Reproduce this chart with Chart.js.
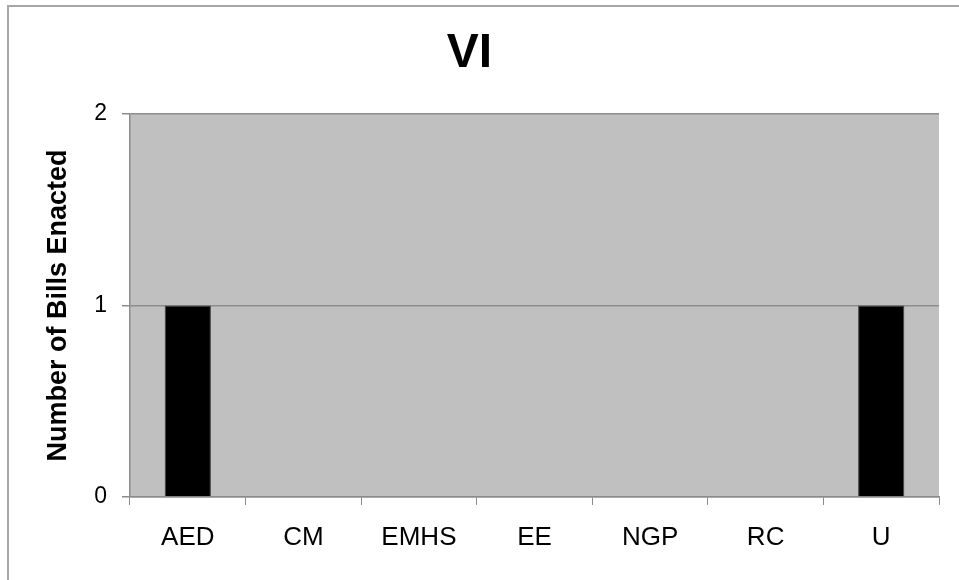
<!DOCTYPE html>
<html>
<head>
<meta charset="utf-8">
<script src="https://cdn.jsdelivr.net/npm/chart.js@4"></script>
<style>
    body { margin: 0; background: #ffffff; }
    #grafico { display: block; }
</style>
</head>
<body>
<canvas id="grafico" width="959" height="580"></canvas>
<script>
// Dados do gráfico
const categorias = ['AED', 'CM', 'EMHS', 'EE', 'NGP', 'RC', 'U'];
const totais = [1, 0, 0, 0, 0, 0, 1];
const titulo = 'VI';
const tituloEixoY = 'Number of Bills Enacted';

const fonte = '"Liberation Sans", Arial, sans-serif';

// Fundo cinza da área do gráfico e moldura externa
const fundoPlugin = {
    id: 'fundo',
    beforeDraw(chart) {
        const ctx = chart.ctx;
        const area = chart.chartArea;
        ctx.save();
        ctx.fillStyle = '#c0c0c0';
        ctx.fillRect(area.left, area.top, area.right - area.left, area.bottom - area.top);
        ctx.strokeStyle = '#a6a6a6';
        ctx.lineWidth = 2;
        ctx.beginPath();
        ctx.moveTo(8, 580);
        ctx.lineTo(8, 6);
        ctx.lineTo(959, 6);
        ctx.stroke();
        ctx.restore();
    }
};

const ctx = document.getElementById('grafico').getContext('2d');

const meuGrafico = new Chart(ctx, {
    type: 'bar',
    data: {
        labels: categorias,
        datasets: [{
            label: tituloEixoY,
            data: totais,
            backgroundColor: '#000000',
            borderColor: '#404040',
            borderWidth: 1,
            categoryPercentage: 1,
            barPercentage: 0.4
        }]
    },
    options: {
        responsive: false,
        animation: false,
        layout: {
            padding: { left: 0, right: 20, top: 0, bottom: 0 }
        },
        plugins: {
            legend: { display: false },
            tooltip: { enabled: false },
            title: {
                display: true,
                text: titulo,
                color: '#000000',
                font: { family: fonte, size: 48, weight: 'bold', lineHeight: 1.2 },
                padding: { top: 25, bottom: 31.4 }
            }
        },
        scales: {
            x: {
                offset: true,
                grid: {
                    offset: true,
                    drawOnChartArea: false,
                    color: '#8c8c8c',
                    tickLength: 8
                },
                border: { display: true, color: '#8c8c8c', width: 1.5 },
                ticks: {
                    color: '#000000',
                    font: { family: fonte, size: 26 },
                    padding: 17,
                    maxRotation: 0
                },
                afterFit(scale) { scale.height = 83; }
            },
            y: {
                min: 0,
                max: 2,
                ticks: {
                    stepSize: 1,
                    color: '#000000',
                    font: { family: fonte, size: 23 },
                    padding: 15
                },
                grid: {
                    color: '#8c8c8c',
                    lineWidth: 1.5,
                    tickLength: 8
                },
                border: { display: true, color: '#8c8c8c', width: 1.5 },
                title: {
                    display: true,
                    text: tituloEixoY,
                    color: '#000000',
                    font: { family: fonte, size: 27, weight: 'bold', lineHeight: 1.2 },
                    padding: { top: 42, bottom: 0 }
                },
                afterFit(scale) { scale.width = 130; }
            }
        }
    },
    plugins: [fundoPlugin]
});
</script>
</body>
</html>
